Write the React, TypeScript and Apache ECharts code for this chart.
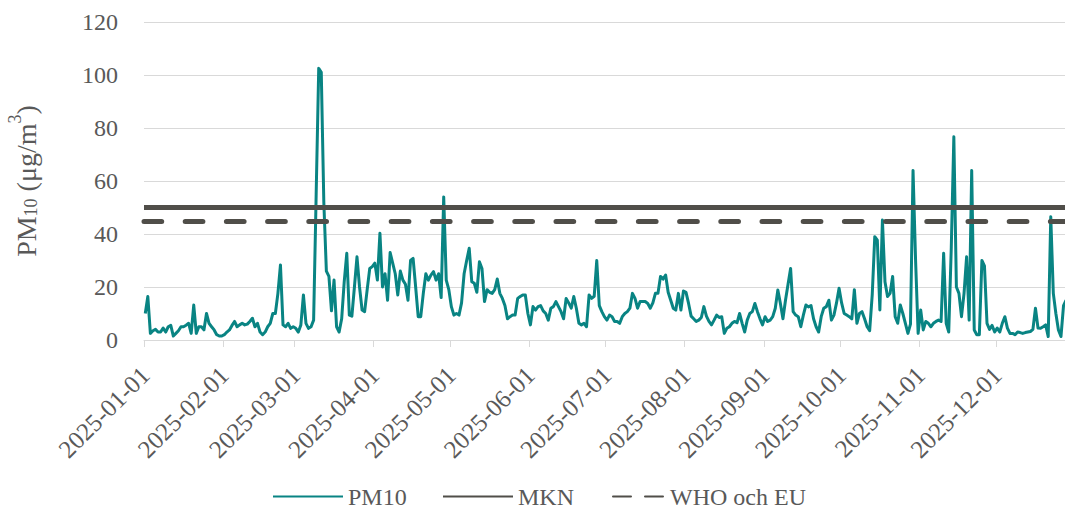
import { useEffect, useRef } from "react";
import * as echarts from "echarts";

// Daily PM10 means (µg/m³), 2025, one array per month
const jan = [10, 16.4, 2.5, 3.5, 4, 3, 3, 4.5, 3, 5, 5.5, 1.5, 2.5, 3.5, 5, 5, 5.6, 6.3, 2.5, 13.2, 2.5, 5, 5, 3.8, 10, 6.3, 5, 3.8, 2, 1.5, 1.5];
const feb = [2, 3, 3.8, 5.5, 7, 5, 5.7, 6.3, 5.7, 6, 7, 8.2, 5, 6.3, 3, 2, 3, 5, 6.3, 10, 10, 17.6, 28.3, 5.7, 5, 6.3, 4.4, 5];
const mar = [4.4, 3, 5.7, 17, 6.3, 4.4, 5, 7.5, 55, 102.5, 101, 52, 26, 24, 11, 22.6, 5, 3, 8, 22, 32.7, 9.4, 9, 20, 31.4, 20, 11.3, 10.7, 19, 27, 27.7];
const apr = [29, 22.6, 40.3, 20, 25, 15, 33, 29, 25, 17, 26, 22.6, 21, 15, 30, 30.8, 20, 8.8, 8.8, 17.6, 25, 22.6, 24.5, 25.8, 22.6, 25, 16, 54, 22.6, 19];
const may = [12.6, 9.4, 10, 9.4, 14, 25, 30, 34.6, 22, 21.4, 18, 29.5, 27, 14.5, 19, 18, 17.6, 19, 23, 17.6, 15.7, 13, 8, 8.8, 9.4, 9.4, 15.7, 16.4, 17, 17, 10];
const jun = [5.7, 12.6, 11.3, 12.6, 13, 11, 10, 7.5, 12, 12.6, 14.5, 12.6, 10.7, 8, 15.7, 14, 12, 16.4, 12, 6.3, 5.7, 6.3, 5, 17, 15.7, 16.5, 30, 13, 10.7, 8.8];
const jul = [7.5, 9.4, 8.8, 7, 7, 6.3, 8.8, 10, 10.7, 12, 17.6, 15.7, 12, 14.5, 14.5, 14.5, 13.8, 12, 14, 17.6, 17.6, 24, 23, 24.5, 18, 15, 12, 11.3, 17.6, 11.3, 18.5];
const aug = [18, 13.8, 9, 8, 7, 7.5, 8.5, 12.6, 9, 7, 5.7, 7.5, 9.4, 8.5, 8.8, 2.5, 4.4, 5, 6.3, 7, 6.5, 10, 6.3, 3, 7.5, 10, 10.7, 13.8, 10.7, 8, 5.7];
const sep = [8.8, 7, 7.5, 8.8, 12, 18.9, 13.8, 8, 15, 21, 27, 10.7, 9.4, 8.8, 5, 9.4, 13.2, 12.5, 13, 8, 5, 3, 8.8, 12, 12.6, 15, 7.5, 9.4, 14, 19.5];
const oct = [14, 10, 9.4, 8.8, 8, 19, 6.3, 10, 10.7, 8, 5, 3.5, 17, 39, 37.7, 11.3, 45.3, 22, 16.4, 17.6, 24, 8.8, 6.3, 13.2, 10, 6.3, 2.5, 6, 64, 30, 2.5];
const nov = [11.3, 3.8, 7, 6.3, 5, 6.3, 7, 7.5, 7, 32.7, 6.3, 3, 35, 76.7, 20, 17.6, 8.8, 17.6, 31.4, 7.5, 64, 3.8, 2, 2, 30, 28, 6.3, 4, 5.5, 3];
const dec = [4.5, 3, 6.3, 8.8, 4.5, 2.5, 2.5, 2, 3, 2.8, 2.5, 2.8, 3, 3.2, 4, 12, 4.5, 4.4, 5, 5.7, 1.3, 46.5, 17.6, 10, 3.8, 1.3, 13, 15, null, null, null];

const months = [jan, feb, mar, apr, may, jun, jul, aug, sep, oct, nov, dec];
const pm10 = months.flat();

const pad = (n: number) => String(n).padStart(2, "0");
const dates: string[] = [];
months.forEach((m, mi) => m.forEach((_, di) => dates.push(`2025-${pad(mi + 1)}-${pad(di + 1)}`)));

const mknLimit = 50;
const whoLimit = 45;
const yMin = 0;
const yMax = 120;
const yStep = 20;

const TEAL = "#098483";
const DARK = "#504e49";
const LABEL = "#595959";
const GRID = "#d9d9d9";
const FONT = "'Liberation Serif', 'Times New Roman', serif";

const isMonthStart = (_: number, v: string) => v.endsWith("-01");

export default function App() {
  const ref = useRef<HTMLDivElement>(null);
  useEffect(() => {
    if (!ref.current) return;
    const chart = echarts.init(ref.current, undefined, { renderer: "svg" });
    const legendBase = {
      top: 484.5,
      padding: 0,
      itemHeight: 4,
      textStyle: { fontFamily: FONT, fontSize: 24, color: LABEL },
      itemStyle: { opacity: 0 },
      selectedMode: false,
    };
    chart.setOption({
      animation: false,
      backgroundColor: "#ffffff",
      grid: { left: 144, right: 10, top: 22, bottom: 168, containLabel: false, outerBoundsMode: "none" },
      xAxis: {
        type: "category",
        data: dates,
        boundaryGap: true,
        axisLine: { show: true, lineStyle: { color: GRID, width: 1 } },
        axisTick: { show: true, interval: isMonthStart, length: 7, lineStyle: { color: GRID, width: 1 } },
        axisLabel: {
          interval: isMonthStart,
          rotate: 45,
          margin: 31,
          fontFamily: FONT,
          fontSize: 25,
          color: LABEL,
        },
        splitLine: { show: false },
      },
      yAxis: {
        type: "value",
        min: yMin,
        max: yMax,
        interval: yStep,
        axisLine: { show: false },
        axisTick: { show: false },
        axisLabel: { margin: 26, fontFamily: FONT, fontSize: 24, color: LABEL },
        splitLine: { lineStyle: { color: GRID, width: 1 } },
        name: "{m|PM}{sub|10}{m| (μg/m}{sup|3}{m|)}",
        nameLocation: "middle",
        nameRotate: 90,
        nameGap: 104,
        nameTextStyle: {
          fontFamily: FONT,
          fontSize: 28,
          color: LABEL,
          rich: {
            m: { fontFamily: FONT, fontSize: 28, color: LABEL, lineHeight: 34, verticalAlign: "bottom" },
            sub: { fontFamily: FONT, fontSize: 18, color: LABEL, lineHeight: 13, verticalAlign: "bottom" },
            sup: { fontFamily: FONT, fontSize: 18, color: LABEL, lineHeight: 26, verticalAlign: "top" },
          },
        },
      },
      legend: [
        { ...legendBase, left: 272, itemWidth: 70, data: ["PM10"] },
        { ...legendBase, left: 442, itemWidth: 70, data: ["MKN"] },
        {
          ...legendBase,
          left: 612,
          itemWidth: 52,
          data: ["WHO och EU"],
          lineStyle: { type: [18, 14], cap: "round" },
        },
      ],
      series: [
        {
          name: "PM10",
          type: "line",
          data: pm10,
          symbol: "none",
          z: 2,
          lineStyle: { color: TEAL, width: 3, join: "round" },
          itemStyle: { color: TEAL },
        },
        {
          name: "MKN",
          type: "line",
          data: [],
          symbol: "none",
          z: 3,
          lineStyle: { color: DARK, width: 5 },
          itemStyle: { color: DARK },
          markLine: {
            silent: true,
            symbol: ["none", "none"],
            label: { show: false },
            lineStyle: { color: DARK, width: 5, type: "solid" },
            data: [{ yAxis: mknLimit }],
          },
        },
        {
          name: "WHO och EU",
          type: "line",
          data: [],
          symbol: "none",
          z: 3,
          lineStyle: { color: DARK, width: 5, type: [17.7, 23.5], cap: "round" },
          itemStyle: { color: DARK },
          markLine: {
            silent: true,
            symbol: ["none", "none"],
            label: { show: false },
            lineStyle: { color: DARK, width: 5, type: [17.7, 23.5], cap: "round" },
            data: [{ yAxis: whoLimit }],
          },
        },
      ],
    });
    return () => chart.dispose();
  }, []);
  return (
    <div style={{ position: "fixed", left: 0, top: 0, width: 1065, height: 508, overflow: "hidden", background: "#fff" }}>
      <div ref={ref} style={{ width: 1085, height: 508 }} />
    </div>
  );
}
